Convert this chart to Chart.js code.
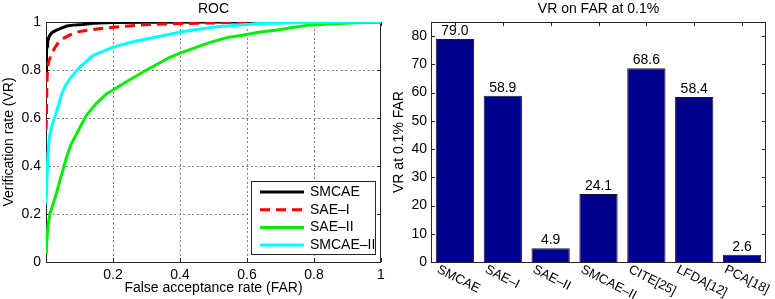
<!DOCTYPE html>
<html>
<head>
<meta charset="utf-8">
<script src="https://cdn.jsdelivr.net/npm/chart.js@4"></script>
<style>
  body { margin: 0; background: #fff; }
  #wrap { position: relative; width: 775px; height: 299px; }
  #rocBox { position: absolute; left: 0; top: 0; width: 390px; height: 299px; }
  #barBox { position: absolute; left: 390px; top: 0; width: 385px; height: 299px; }
</style>
</head>
<body>
<div id="wrap">
  <div id="rocBox"><canvas id="rocChart"></canvas></div>
  <div id="barBox"><canvas id="barChart"></canvas></div>
</div>
<script>
// ROC curves (FAR, VR)
const smcaeFar = [0, 0.001, 0.002, 0.003, 0.005, 0.008, 0.012, 0.02, 0.03, 0.042, 0.062, 0.08, 0.11, 0.14, 0.2, 0.3, 0.5, 1];
const smcaeVr = [0.79, 0.85, 0.88, 0.9, 0.918, 0.935, 0.946, 0.958, 0.965, 0.972, 0.983, 0.987, 0.99, 0.995, 0.998, 0.999, 1, 1];

const sae1Far = [0, 0.001, 0.002, 0.003, 0.005, 0.008, 0.012, 0.017, 0.025, 0.035, 0.05, 0.07, 0.09, 0.12, 0.16, 0.23, 0.31, 0.45, 0.66, 1];
const sae1Vr = [0.55, 0.589, 0.68, 0.76, 0.81, 0.835, 0.85, 0.865, 0.89, 0.91, 0.93, 0.945, 0.958, 0.965, 0.972, 0.982, 0.99, 0.995, 1, 1];

const sae2Far = [0, 0.001, 0.003, 0.006, 0.012, 0.022, 0.032, 0.042, 0.052, 0.062, 0.075, 0.092, 0.12, 0.15, 0.18, 0.21, 0.24, 0.3, 0.34, 0.365, 0.4, 0.45, 0.49, 0.54, 0.59, 0.64, 0.69, 0.74, 0.79, 0.89, 1];
const sae2Vr = [0.04, 0.049, 0.1, 0.15, 0.203, 0.245, 0.29, 0.342, 0.39, 0.439, 0.49, 0.536, 0.61, 0.66, 0.7, 0.725, 0.751, 0.8, 0.83, 0.85, 0.87, 0.895, 0.915, 0.935, 0.946, 0.958, 0.967, 0.978, 0.988, 0.995, 1];

const smcae2Far = [0, 0.001, 0.003, 0.006, 0.01, 0.017, 0.025, 0.032, 0.047, 0.06, 0.072, 0.1, 0.14, 0.2, 0.26, 0.31, 0.41, 0.51, 0.64, 0.79, 0.9, 1];
const smcae2Vr = [0.241, 0.241, 0.35, 0.45, 0.52, 0.565, 0.6, 0.628, 0.7, 0.74, 0.765, 0.81, 0.86, 0.895, 0.918, 0.932, 0.96, 0.98, 0.994, 0.998, 1, 1];

const rocLabels = ["SMCAE", "SAE\u2013I", "SAE\u2013II", "SMCAE\u2013II"];
const rocColors = ["#000000", "#ff0000", "#00ee00", "#00ffff"];
const rocTicks = [0, 0.2, 0.4, 0.6, 0.8, 1];

// VR at FAR = 0.1%
const methods = ["SMCAE", "SAE\u2013I", "SAE\u2013II", "SMCAE\u2013II", "CITE[25]", "LFDA[12]", "PCA[18]"];
const vrAtFar = [79.0, 58.9, 4.9, 24.1, 68.6, 58.4, 2.6];
const barTicks = [0, 10, 20, 30, 40, 50, 60, 70, 80];

const FONT = '"Liberation Sans", Arial, Helvetica, sans-serif';
const FS = 14;
Chart.defaults.font.family = FONT;
Chart.defaults.font.size = FS;
Chart.defaults.color = "#000";

const toPoints = (far, vr) => far.map((x, i) => ({ x: x, y: vr[i] }));

// dotted grid, box and inward ticks like matlab; title over the plot area
function drawFrame(chart, withGrid) {
  const { ctx, chartArea: a, scales } = chart;
  const xs = scales.x, ys = scales.y;
  ctx.save();
  if (withGrid) {
    ctx.fillStyle = "#808080";
    rocTicks.forEach((v) => {
      const px = Math.round(xs.getPixelForValue(v));
      if (px > a.left + 2 && px < a.right - 2) {
        for (let y = a.top + 2; y < a.bottom - 1; y += 4.5) ctx.fillRect(px, Math.round(y), 1, 2);
      }
      const py = Math.round(ys.getPixelForValue(v));
      if (py > a.top + 2 && py < a.bottom - 2) {
        for (let x = a.left + 2; x < a.right - 1; x += 4.5) ctx.fillRect(Math.round(x), py, 2, 1);
      }
    });
  }
  ctx.strokeStyle = "#262626";
  ctx.lineWidth = 1;
  ctx.beginPath();
  const len = 4;
  xs.ticks.forEach((t, i) => {
    const px = Math.round(xs.getPixelForTick(i)) + 0.5;
    ctx.moveTo(px, a.bottom);
    ctx.lineTo(px, a.bottom - len);
    ctx.moveTo(px, a.top);
    ctx.lineTo(px, a.top + len);
  });
  ys.ticks.forEach((t, i) => {
    const py = Math.round(ys.getPixelForTick(i)) + 0.5;
    ctx.moveTo(a.left, py);
    ctx.lineTo(a.left + len, py);
    ctx.moveTo(a.right, py);
    ctx.lineTo(a.right - len, py);
  });
  ctx.stroke();
  ctx.strokeRect(a.left + 0.5, a.top + 0.5, a.right - a.left - 1, a.bottom - a.top);
  ctx.restore();
}

function drawTitle(chart, text) {
  const { ctx, chartArea: a } = chart;
  ctx.save();
  ctx.font = FS + "px " + FONT;
  ctx.fillStyle = "#000";
  ctx.textAlign = "center";
  ctx.textBaseline = "middle";
  ctx.fillText(text, (a.left + a.right) / 2, 9);
  ctx.restore();
}

const rocFrame = {
  id: "rocFrame",
  beforeDatasetsDraw(chart) { drawFrame(chart, true); },
  afterDatasetsDraw(chart) {
    // legend box inside the axes, lower right
    const { ctx, chartArea: a } = chart;
    const w = 124, h = 73;
    const x0 = a.right - 6 - w, y0 = a.bottom - 8 - h;
    ctx.save();
    ctx.fillStyle = "#fff";
    ctx.fillRect(x0, y0, w, h);
    ctx.strokeStyle = "#262626";
    ctx.lineWidth = 1;
    ctx.strokeRect(x0 + 0.5, y0 + 0.5, w, h);
    ctx.font = FS + "px " + FONT;
    ctx.textBaseline = "middle";
    ctx.textAlign = "left";
    chart.data.datasets.forEach((ds, i) => {
      const y = y0 + 11 + i * 17.7;
      ctx.strokeStyle = ds.borderColor;
      ctx.lineWidth = ds.borderWidth;
      ctx.setLineDash(ds.borderDash || []);
      ctx.beginPath();
      ctx.moveTo(x0 + 9, y);
      ctx.lineTo(x0 + 53, y);
      ctx.stroke();
      ctx.fillStyle = "#000";
      ctx.fillText(ds.label, x0 + 59, y);
    });
    ctx.restore();
  },
  afterDraw(chart) { drawTitle(chart, "ROC"); },
};

new Chart(document.getElementById("rocChart"), {
  type: "line",
  data: {
    datasets: [
      { label: rocLabels[0], data: toPoints(smcaeFar, smcaeVr), borderColor: rocColors[0], order: 4 },
      { label: rocLabels[1], data: toPoints(sae1Far, sae1Vr), borderColor: rocColors[1], borderDash: [10, 6], order: 3 },
      { label: rocLabels[2], data: toPoints(sae2Far, sae2Vr), borderColor: rocColors[2], order: 2 },
      { label: rocLabels[3], data: toPoints(smcae2Far, smcae2Vr), borderColor: rocColors[3], order: 1 },
    ].map((d) => Object.assign({ borderWidth: 3, pointRadius: 0, tension: 0, fill: false }, d)),
  },
  options: {
    responsive: true,
    maintainAspectRatio: false,
    animation: false,
    layout: { padding: { top: 22, right: 9, left: 0, bottom: 0 } },
    plugins: {
      legend: { display: false },
      tooltip: { enabled: false },
    },
    scales: {
      x: {
        type: "linear",
        min: 0,
        max: 1,
        afterBuildTicks: (s) => { s.ticks = rocTicks.map((v) => ({ value: v })); },
        afterFit: (s) => { s.height = 37; },
        grid: { display: false, drawTicks: false },
        border: { display: false },
        ticks: { padding: 5, callback: (v) => (v === 0 ? "" : String(Math.round(v * 10) / 10)) },
        title: { display: true, text: "False acceptance rate (FAR)", padding: { top: 2, bottom: 2 } },
      },
      y: {
        type: "linear",
        min: 0,
        max: 1,
        afterBuildTicks: (s) => { s.ticks = rocTicks.map((v) => ({ value: v })); },
        afterFit: (s) => { s.width = 46; },
        grid: { display: false, drawTicks: false },
        border: { display: false },
        ticks: { padding: 5, callback: (v) => String(Math.round(v * 10) / 10) },
        title: { display: true, text: "Verification rate (VR)", padding: { top: 1, bottom: 1 } },
      },
    },
  },
  plugins: [rocFrame],
});

// value labels over bars and slanted category names
const barFrame = {
  id: "barFrame",
  beforeDatasetsDraw(chart) { drawFrame(chart, false); },
  afterDatasetsDraw(chart) {
    const { ctx, chartArea: a } = chart;
    const meta = chart.getDatasetMeta(0);
    const xs = chart.scales.x;
    ctx.save();
    ctx.font = FS + "px " + FONT;
    ctx.fillStyle = "#000";
    ctx.textAlign = "center";
    ctx.textBaseline = "bottom";
    meta.data.forEach((bar, i) => {
      ctx.fillText(vrAtFar[i].toFixed(1), bar.x, bar.y - 1);
    });
    ctx.font = "13px " + FONT;
    ctx.textAlign = "left";
    ctx.textBaseline = "top";
    methods.forEach((m, i) => {
      const x = xs.getPixelForValue(i);
      ctx.save();
      ctx.translate(x - 14, a.bottom + 1);
      ctx.rotate((27 * Math.PI) / 180);
      ctx.fillText(m, 0, 0);
      ctx.restore();
    });
    ctx.restore();
  },
  afterDraw(chart) { drawTitle(chart, "VR on FAR at 0.1%"); },
};

new Chart(document.getElementById("barChart"), {
  type: "bar",
  data: {
    labels: methods,
    datasets: [
      {
        label: "VR at 0.1% FAR",
        data: vrAtFar,
        backgroundColor: "#00008f",
        borderColor: "#1a1a1a",
        borderWidth: 1,
        barPercentage: 0.8,
        categoryPercentage: 1,
      },
    ],
  },
  options: {
    responsive: true,
    maintainAspectRatio: false,
    animation: false,
    layout: { padding: { top: 22, right: 9, left: 0, bottom: 0 } },
    plugins: {
      legend: { display: false },
      tooltip: { enabled: false },
    },
    scales: {
      x: {
        afterFit: (s) => { s.height = 37; },
        grid: { display: false, drawTicks: false },
        border: { display: false },
        ticks: { display: false },
      },
      y: {
        min: 0,
        max: 85,
        afterBuildTicks: (s) => { s.ticks = barTicks.map((v) => ({ value: v })); },
        afterFit: (s) => { s.width = 41; },
        grid: { display: false, drawTicks: false },
        border: { display: false },
        ticks: { padding: 4 },
        title: { display: true, text: "VR at 0.1% FAR", padding: { top: 1, bottom: 1 } },
      },
    },
  },
  plugins: [barFrame],
});
</script>
</body>
</html>
